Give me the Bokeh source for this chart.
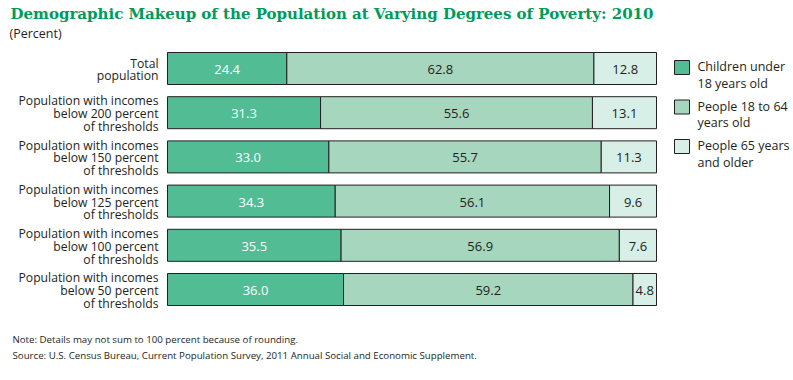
from bokeh.plotting import figure
from bokeh.models import Range1d, ColumnDataSource
from bokeh.core.properties import value
from bokeh.embed import file_html
from bokeh.resources import INLINE

# ---------------- data ----------------
categories = [
    "Total\npopulation",
    "Population with incomes\nbelow 200 percent\nof thresholds",
    "Population with incomes\nbelow 150 percent\nof thresholds",
    "Population with incomes\nbelow 125 percent\nof thresholds",
    "Population with incomes\nbelow 100 percent\nof thresholds",
    "Population with incomes\nbelow 50 percent\nof thresholds",
]
children = [24.4, 31.3, 33.0, 34.3, 35.5, 36.0]
adults = [62.8, 55.6, 55.7, 56.1, 56.9, 59.2]
seniors = [12.8, 13.1, 11.3, 9.6, 7.6, 4.8]
series_names = ["Children under\n18 years old", "People 18 to 64\nyears old", "People 65 years\nand older"]
title_text = "Demographic Makeup of the Population at Varying Degrees of Poverty: 2010"
subtitle_text = "(Percent)"
note_text = "Note:  Details may not sum to 100 percent because of rounding."
source_text = "Source: U.S. Census Bureau, Current Population Survey, 2011 Annual Social and Economic Supplement."

colors = ["#52BD94", "#A7D6BF", "#D7EFE6"]
text_colors = ["#FFFFFF", "#231F20", "#231F20"]
FONT = "Open Sans"

# ---------------- layout helpers (canvas pixels -> data) ----------------
W, H = 793, 380
X0, XS = 167.0, 4.89      # canvas x of 0 %, px per percent
Y0, YS = 68.0, 44.2       # canvas y of row 0 center, px per row

def dx(px):
    return (px - X0) / XS

def dy(py):
    return (py - Y0) / YS

p = figure(width=W, height=H, output_backend="svg", toolbar_location=None,
           x_range=Range1d(dx(0), dx(W)), y_range=Range1d(dy(H), dy(0)),
           min_border=0, min_border_left=0, min_border_right=0,
           min_border_top=0, min_border_bottom=0,
           x_axis_location=None, y_axis_location=None)
p.outline_line_color = None
p.grid.visible = False
p.border_fill_color = "white"
p.background_fill_color = "white"

rows = list(range(len(categories)))
series = [children, adults, seniors]
bar_h = 32.0 / YS

left = [0.0] * len(rows)
for k, vals in enumerate(series):
    right = [l + v for l, v in zip(left, vals)]
    src = ColumnDataSource(dict(y=rows, left=left, right=right,
                                mid=[(l + r) / 2 for l, r in zip(left, right)],
                                lab=[f"{v:.1f}" for v in vals]))
    p.hbar(y="y", left="left", right="right", height=bar_h, source=src,
           fill_color=colors[k], line_color="#231F20", line_width=1)
    p.text(x="mid", y="y", text="lab", source=src, text_align="center",
           text_baseline="middle", text_font=value(FONT), text_font_size="13px",
           text_color=text_colors[k], y_offset=1)
    left = right

# category labels (right aligned, multi-line)
lx, ly, lt = [], [], []
for i, cat in enumerate(categories):
    lines = cat.split("\n")
    n = len(lines)
    for j, line in enumerate(lines):
        lx.append(0)
        ly.append(i + ((j - (n - 1) / 2) * 12.8 + 1) / YS)
        lt.append(line)
p.text(x=lx, y=ly, text=lt, text_align="right", text_baseline="middle",
       x_offset=-9, text_font=value(FONT), text_font_size="12.2px", text_color="#231F20")

# legend
leg_first = [66, 105.5, 145]
p.rect(x=[dx(681.5)] * 3, y=[dy(v + 1) for v in leg_first], width=15, height=14,
       width_units="screen", height_units="screen", fill_color=colors,
       line_color="#231F20", line_width=1)
tx, ty, tt = [], [], []
for k, name in enumerate(series_names):
    for j, line in enumerate(name.split("\n")):
        tx.append(dx(697))
        ty.append(dy(leg_first[k] + j * 16.5))
        tt.append(line)
p.text(x=tx, y=ty, text=tt, text_align="left", text_baseline="middle",
       text_font=value(FONT), text_font_size="12.5px", text_color="#231F20")

# title, subtitle, notes
p.text(x=[dx(10)], y=[dy(13)], text=[title_text], text_align="left", text_baseline="middle",
       text_font=value("DejaVu Serif"), text_font_style="bold", text_font_size="15px",
       text_color="#009B5A")
p.text(x=[dx(9)], y=[dy(33)], text=[subtitle_text], text_align="left", text_baseline="middle",
       text_font=value(FONT), text_font_size="12.5px", text_color="#231F20")
p.text(x=[dx(12), dx(12)], y=[dy(339), dy(355)], text=[note_text, source_text],
       text_align="left", text_baseline="middle",
       text_font=value(FONT), text_font_size="9.7px", text_color="#231F20")

open("out.html", "w").write(file_html(p, INLINE))
